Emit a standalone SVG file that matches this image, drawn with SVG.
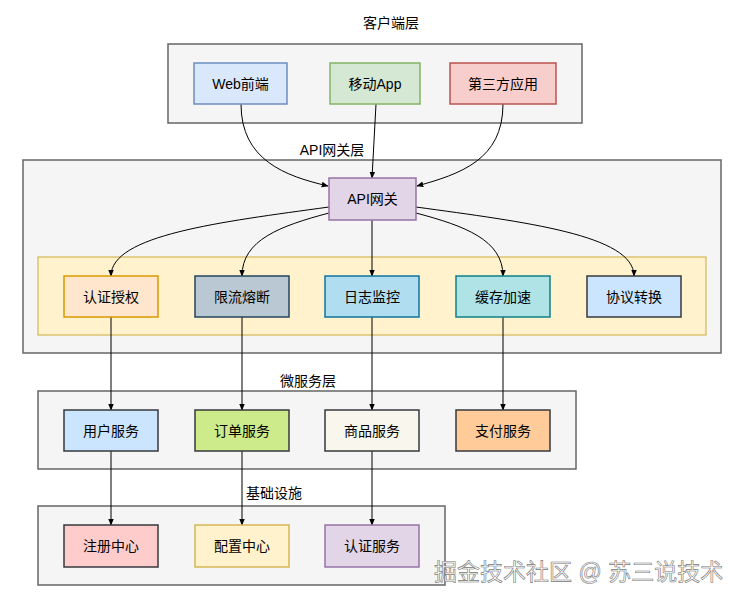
<svg xmlns="http://www.w3.org/2000/svg" width="738" height="602" viewBox="0 0 738 602">
<defs>
<marker id="arr" viewBox="0 0 10 10" refX="9" refY="5" markerWidth="7" markerHeight="7" orient="auto" markerUnits="userSpaceOnUse">
<path d="M0,1 L10,5 L0,9 Z" fill="#000"/>
</marker>
<style>
text{font-family:"Liberation Sans","Noto Sans CJK SC",sans-serif;font-size:14px;fill:#000;text-anchor:middle;dominant-baseline:central}
.layer{fill:#f5f5f5;stroke:#666;stroke-width:1.5}
.n{stroke-width:1.5}
.c{fill:none;stroke:#000;stroke-width:1;marker-end:url(#arr)}
.wm{font-size:23px;fill:#fff;stroke:#777;stroke-width:0.6;text-anchor:start}
</style>
</defs>
<rect width="738" height="602" fill="#fff"/>
<g id="layer-client">
<rect class="layer" x="168" y="44" width="414" height="79"/>
<text x="391" y="23">客户端层</text>
</g>
<g id="layer-api">
<rect class="layer" x="23" y="160" width="698" height="193"/>
<text x="332" y="150">API网关层</text>
<rect x="38" y="257" width="668" height="78" fill="#fff2cc" stroke="#d6b656" stroke-width="1.2"/>
</g>
<g id="layer-ms">
<rect class="layer" x="38" y="391" width="538" height="78"/>
<text x="308" y="381">微服务层</text>
</g>
<g id="layer-infra">
<rect class="layer" x="38" y="506" width="407" height="79"/>
<text x="274" y="493">基础设施</text>
</g>
<g id="connectors">
<path class="c" d="M241,104 C241,160 285,176 328,186"/>
<path class="c" d="M376,104 L372,178"/>
<path class="c" d="M503,104 C503,160 460,174 417,186"/>
<path class="c" d="M329,207 C220,222 111,235 111,276"/>
<path class="c" d="M329,213 C280,226 242,240 242,276"/>
<path class="c" d="M372,220 L372,276"/>
<path class="c" d="M416,213 C465,226 503,240 503,276"/>
<path class="c" d="M416,207 C525,222 634,235 634,276"/>
<path class="c" d="M111,317 L111,410"/>
<path class="c" d="M242,317 L242,410"/>
<path class="c" d="M372,317 L372,410"/>
<path class="c" d="M503,317 L503,410"/>
<path class="c" d="M111,451 L111,525"/>
<path class="c" d="M242,451 L242,525"/>
<path class="c" d="M372,451 L372,525"/>
</g>
<g id="web"><rect class="n" x="194" y="63" width="93" height="41" fill="#dae8fc" stroke="#6c8ebf"/><text x="240.5" y="84">Web前端</text></g>
<g id="mobile"><rect class="n" x="330" y="63" width="90" height="41" fill="#d5e8d4" stroke="#82b366"/><text x="375" y="84">移动App</text></g>
<g id="third"><rect class="n" x="450" y="63" width="106" height="41" fill="#f8cecc" stroke="#b85450"/><text x="503" y="84">第三方应用</text></g>
<g id="gateway"><rect class="n" x="329" y="178" width="87" height="42" fill="#e1d5e7" stroke="#9673a6"/><text x="372.5" y="199">API网关</text></g>
<g id="auth"><rect class="n" x="64" y="276" width="94" height="41" fill="#ffe6cc" stroke="#d79b00"/><text x="111" y="297">认证授权</text></g>
<g id="ratelimit"><rect class="n" x="195" y="276" width="94" height="41" fill="#bac8d3" stroke="#23445d"/><text x="242" y="297">限流熔断</text></g>
<g id="logging"><rect class="n" x="325" y="276" width="94" height="41" fill="#b1ddf0" stroke="#10739e"/><text x="372" y="297">日志监控</text></g>
<g id="cache"><rect class="n" x="456" y="276" width="94" height="41" fill="#b0e3e6" stroke="#0e8088"/><text x="503" y="297">缓存加速</text></g>
<g id="protocol"><rect class="n" x="587" y="276" width="94" height="41" fill="#cce5ff" stroke="#36393d"/><text x="634" y="297">协议转换</text></g>
<g id="user"><rect class="n" x="64" y="410" width="94" height="41" fill="#cce5ff" stroke="#36393d"/><text x="111" y="431">用户服务</text></g>
<g id="order"><rect class="n" x="195" y="410" width="94" height="41" fill="#cdeb8b" stroke="#36393d"/><text x="242" y="431">订单服务</text></g>
<g id="product"><rect class="n" x="325" y="410" width="94" height="41" fill="#f9f7ed" stroke="#36393d"/><text x="372" y="431">商品服务</text></g>
<g id="payment"><rect class="n" x="456" y="410" width="94" height="41" fill="#ffcc99" stroke="#36393d"/><text x="503" y="431">支付服务</text></g>
<g id="registry"><rect class="n" x="64" y="525" width="94" height="42" fill="#ffcccc" stroke="#36393d"/><text x="111" y="546">注册中心</text></g>
<g id="config"><rect class="n" x="195" y="525" width="94" height="42" fill="#fff2cc" stroke="#d6b656"/><text x="242" y="546">配置中心</text></g>
<g id="authsvc"><rect class="n" x="325" y="525" width="94" height="42" fill="#e1d5e7" stroke="#9673a6"/><text x="372" y="546">认证服务</text></g>
<text class="wm" x="434" y="572">掘金技术社区 @ 苏三说技术</text>
</svg>
